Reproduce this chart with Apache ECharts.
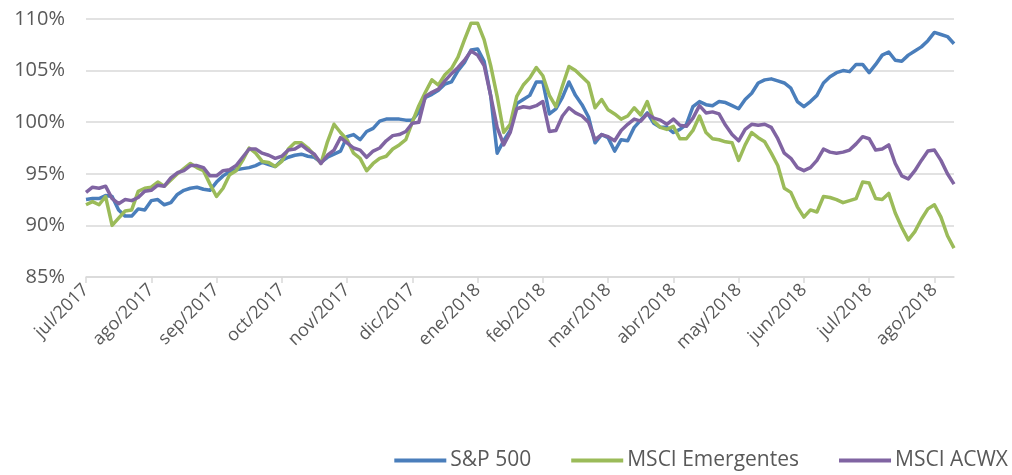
<!DOCTYPE html>
<html>
<head>
<meta charset="utf-8">
<script src="https://cdn.jsdelivr.net/npm/echarts@6/dist/echarts.min.js"></script>
<style>
  html, body { margin: 0; padding: 0; background: #fff; }
  #chart { width: 1012px; height: 475px; }
</style>
</head>
<body>
<div id="chart"></div>
<script>
// month tick labels, one every 10 points
const monthLabels = ['jul/2017', 'ago/2017', 'sep/2017', 'oct/2017', 'nov/2017', 'dic/2017',
  'ene/2018', 'feb/2018', 'mar/2018', 'abr/2018', 'may/2018', 'jun/2018', 'jul/2018', 'ago/2018'];
const pointsPerMonth = 10;

// index values (%)
const sp500 = [
  92.5, 92.6, 92.6, 92.9, 92.8, 91.5, 90.9, 90.9, 91.6, 91.5,
  92.4, 92.5, 92.0, 92.2, 93.0, 93.4, 93.6, 93.7, 93.5, 93.4,
  94.2, 94.8, 95.2, 95.4, 95.5, 95.6, 95.8, 96.1, 95.9, 95.7,
  96.3, 96.6, 96.8, 96.9, 96.7, 96.6, 96.1, 96.6, 96.9, 97.2,
  98.6, 98.8, 98.3, 99.1, 99.4, 100.1, 100.3, 100.3, 100.3, 100.2,
  100.2, 101.0, 102.4, 102.7, 103.1, 103.7, 103.9, 105.0, 105.8, 107.0,
  107.1, 105.9, 102.6, 97.0, 98.2, 99.2, 101.8, 102.2, 102.6, 103.9,
  103.9, 100.8, 101.3, 102.4, 103.9, 102.6, 101.7, 100.5, 98.0, 98.8,
  98.5, 97.2, 98.3, 98.2, 99.5, 100.2, 100.9, 99.9, 99.5, 99.5,
  99.0, 99.3, 99.8, 101.5, 102.0, 101.7, 101.6, 102.0, 101.9, 101.6,
  101.3, 102.2, 102.8, 103.8, 104.1, 104.2, 104.0, 103.8, 103.3, 102.0,
  101.5, 102.0, 102.6, 103.8, 104.4, 104.8, 105.0, 104.9, 105.6, 105.6,
  104.8, 105.6, 106.5, 106.8, 106.0, 105.9, 106.5, 106.9, 107.3, 107.9,
  108.7, 108.5, 108.3, 107.6
];
const msciEmergentes = [
  92.0, 92.3, 92.0, 92.8, 90.0, 90.7, 91.4, 91.5, 93.3, 93.6,
  93.7, 94.2, 93.8, 94.4, 95.0, 95.5, 96.0, 95.6, 95.3, 94.0,
  92.8, 93.6, 94.9, 95.3, 96.3, 97.5, 97.0, 96.2, 96.1, 95.7,
  96.2, 97.4, 98.0, 98.0, 97.5, 96.8, 96.0, 98.1, 99.8, 99.0,
  98.3, 97.0, 96.5, 95.3, 96.0, 96.5, 96.7, 97.4, 97.8, 98.3,
  100.0, 101.6, 102.9, 104.1, 103.6, 104.6, 105.2, 106.3, 108.0, 109.6,
  109.6, 108.0, 105.5, 102.5, 99.0, 99.8, 102.5, 103.6, 104.3, 105.3,
  104.5, 102.6, 101.5, 103.5, 105.4, 105.0, 104.4, 103.8, 101.4, 102.2,
  101.2, 100.8, 100.3, 100.6, 101.4, 100.7, 102.0, 100.1, 99.5, 99.3,
  99.6, 98.4, 98.4, 99.2, 100.6, 99.0, 98.4, 98.3, 98.1, 98.0,
  96.3, 97.8, 99.0, 98.5, 98.1, 97.0, 95.8, 93.6, 93.2, 91.8,
  90.8, 91.5, 91.3, 92.8, 92.7, 92.5, 92.2, 92.4, 92.6, 94.2,
  94.1, 92.6, 92.5, 93.1, 91.2, 89.8, 88.6, 89.4, 90.6, 91.6,
  92.0, 90.8, 89.0, 87.8
];
const msciAcwx = [
  93.2, 93.7, 93.6, 93.8, 92.6, 92.1, 92.5, 92.4, 92.7, 93.3,
  93.4, 93.9, 93.8, 94.6, 95.1, 95.3, 95.8, 95.8, 95.6, 94.8,
  94.8, 95.3, 95.4, 95.8, 96.6, 97.4, 97.4, 97.0, 96.8, 96.5,
  96.7, 97.3, 97.4, 97.8, 97.3, 96.9, 96.0, 96.8, 97.3, 98.5,
  98.0, 97.5, 97.3, 96.6, 97.2, 97.5, 98.2, 98.7, 98.8, 99.1,
  99.9, 100.0, 102.5, 102.9, 103.2, 104.0, 104.7, 105.3, 106.0, 106.9,
  106.5, 105.5, 102.6, 99.5, 97.8, 99.0, 101.3, 101.5, 101.4, 101.6,
  102.0, 99.1, 99.2, 100.6, 101.4, 100.9, 100.6, 100.0, 98.3, 98.8,
  98.6, 98.2, 99.2, 99.8, 100.3, 100.1, 100.8, 100.4, 100.2, 99.8,
  100.3, 99.7, 99.6, 100.4, 101.6, 100.9, 101.0, 100.8, 99.7, 98.8,
  98.2, 99.3, 99.8, 99.7, 99.8, 99.5, 98.4, 97.0, 96.5, 95.6,
  95.3, 95.6, 96.3, 97.4, 97.1, 97.0, 97.1, 97.3, 97.9, 98.6,
  98.4, 97.3, 97.4, 97.8, 96.0, 94.8, 94.5, 95.3, 96.3, 97.2,
  97.3, 96.3, 95.0, 94.0
];

const categories = sp500.map((_, i) => String(i));
const font = "'Open Sans', sans-serif";
const textColor = '#595959';
const gridColor = '#d9d9d9';

const chart = echarts.init(document.getElementById('chart'), null, { renderer: 'canvas' });

chart.setOption({
  animation: false,
  backgroundColor: '#fff',
  grid: {
    left: 86,
    right: 58,
    top: 19,
    bottom: 198,
    containLabel: false,
    outerBoundsMode: 'none',
  },
  legend: {
    right: 4,
    top: 450,
    padding: 0,
    icon: 'rect',
    itemWidth: 52,
    itemHeight: 4,
    itemGap: 40,
    textStyle: { fontFamily: font, fontSize: 21, color: textColor, padding: [0, 0, 0, -1] },
  },
  xAxis: {
    type: 'category',
    boundaryGap: false,
    data: categories,
    axisLine: { lineStyle: { color: gridColor, width: 1.5 } },
    axisTick: {
      show: true,
      length: 6,
      interval: pointsPerMonth - 1,
      lineStyle: { color: gridColor, width: 1.5 },
    },
    axisLabel: {
      interval: pointsPerMonth - 1,
      rotate: 45,
      margin: 10,
      fontFamily: font,
      fontSize: 18,
      color: textColor,
      formatter: (v, idx) => monthLabels[idx / pointsPerMonth] || '',
    },
    splitLine: { show: false },
  },
  yAxis: {
    type: 'value',
    min: 85,
    max: 110,
    interval: 5,
    axisLine: { show: false },
    axisTick: { show: false },
    axisLabel: {
      formatter: '{value}%',
      margin: 21,
      fontFamily: font,
      fontSize: 20,
      color: textColor,
    },
    splitLine: { lineStyle: { color: gridColor, width: 1.5 } },
  },
  series: [
    {
      name: 'S&P 500',
      type: 'line',
      data: sp500,
      symbol: 'none',
      color: '#4a7ebb',
      lineStyle: { width: 3.5, join: 'round' },
    },
    {
      name: 'MSCI Emergentes',
      type: 'line',
      data: msciEmergentes,
      symbol: 'none',
      color: '#9bbb59',
      lineStyle: { width: 3.5, join: 'round' },
    },
    {
      name: 'MSCI ACWX',
      type: 'line',
      data: msciAcwx,
      symbol: 'none',
      color: '#8064a2',
      lineStyle: { width: 3.5, join: 'round' },
    },
  ],
});
</script>
</body>
</html>
